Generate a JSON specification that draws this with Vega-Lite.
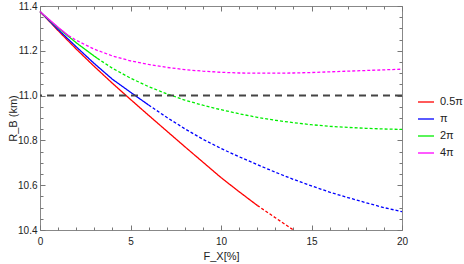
{
  "$schema": "https://vega.github.io/schema/vega-lite/v6.json",
  "autosize": {"type": "none"},
  "width": 362,
  "height": 224,
  "padding": {"left": 40, "top": 6, "right": 62, "bottom": 34},
  "config": {
    "axis": {"domain": false, "grid": false, "labelFont": "Liberation Sans", "labelFontSize": 10, "labelColor": "#222222", "tickColor": "#777777", "titleFont": "Liberation Sans", "titleFontWeight": "normal", "titleFontSize": 11, "titleColor": "#222222", "labelOverlap": false, "labelFlush": false},
    "view": {"stroke": "#888888", "strokeWidth": 1},
    "legend": {"labelFont": "Liberation Sans", "labelFontSize": 11, "labelColor": "#222222"}
  },
  "data": {"values": [
    {"s": "0.5π", "seg": "solid", "x": 0, "y": 11.375},
    {"s": "0.5π", "seg": "solid", "x": 0.5, "y": 11.333},
    {"s": "0.5π", "seg": "solid", "x": 1, "y": 11.29},
    {"s": "0.5π", "seg": "solid", "x": 2, "y": 11.208},
    {"s": "0.5π", "seg": "solid", "x": 3, "y": 11.13},
    {"s": "0.5π", "seg": "solid", "x": 4, "y": 11.055},
    {"s": "0.5π", "seg": "solid", "x": 5, "y": 10.983},
    {"s": "0.5π", "seg": "solid", "x": 6, "y": 10.912},
    {"s": "0.5π", "seg": "solid", "x": 7, "y": 10.842},
    {"s": "0.5π", "seg": "solid", "x": 8, "y": 10.772},
    {"s": "0.5π", "seg": "solid", "x": 9, "y": 10.703},
    {"s": "0.5π", "seg": "solid", "x": 10, "y": 10.634},
    {"s": "0.5π", "seg": "solid", "x": 11, "y": 10.571},
    {"s": "0.5π", "seg": "solid", "x": 12, "y": 10.51},
    {"s": "0.5π", "seg": "dashed", "x": 12, "y": 10.51},
    {"s": "0.5π", "seg": "dashed", "x": 13, "y": 10.455},
    {"s": "0.5π", "seg": "dashed", "x": 14, "y": 10.4},
    {"s": "π", "seg": "solid", "x": 0, "y": 11.375},
    {"s": "π", "seg": "solid", "x": 0.5, "y": 11.335},
    {"s": "π", "seg": "solid", "x": 1, "y": 11.295},
    {"s": "π", "seg": "solid", "x": 2, "y": 11.218},
    {"s": "π", "seg": "solid", "x": 3, "y": 11.143},
    {"s": "π", "seg": "solid", "x": 4, "y": 11.073},
    {"s": "π", "seg": "solid", "x": 5, "y": 11.015},
    {"s": "π", "seg": "solid", "x": 6, "y": 10.958},
    {"s": "π", "seg": "dashed", "x": 6, "y": 10.958},
    {"s": "π", "seg": "dashed", "x": 7, "y": 10.903},
    {"s": "π", "seg": "dashed", "x": 8, "y": 10.852},
    {"s": "π", "seg": "dashed", "x": 9, "y": 10.805},
    {"s": "π", "seg": "dashed", "x": 10, "y": 10.764},
    {"s": "π", "seg": "dashed", "x": 11, "y": 10.727},
    {"s": "π", "seg": "dashed", "x": 12, "y": 10.692},
    {"s": "π", "seg": "dashed", "x": 13, "y": 10.658},
    {"s": "π", "seg": "dashed", "x": 14, "y": 10.626},
    {"s": "π", "seg": "dashed", "x": 15, "y": 10.597},
    {"s": "π", "seg": "dashed", "x": 16, "y": 10.569},
    {"s": "π", "seg": "dashed", "x": 17, "y": 10.545},
    {"s": "π", "seg": "dashed", "x": 18, "y": 10.522},
    {"s": "π", "seg": "dashed", "x": 19, "y": 10.5},
    {"s": "π", "seg": "dashed", "x": 20, "y": 10.482},
    {"s": "2π", "seg": "solid", "x": 0, "y": 11.375},
    {"s": "2π", "seg": "solid", "x": 0.5, "y": 11.338},
    {"s": "2π", "seg": "solid", "x": 1, "y": 11.302},
    {"s": "2π", "seg": "solid", "x": 2, "y": 11.236},
    {"s": "2π", "seg": "solid", "x": 3, "y": 11.176},
    {"s": "2π", "seg": "solid", "x": 3.16, "y": 11.167},
    {"s": "2π", "seg": "dashed", "x": 3.16, "y": 11.167},
    {"s": "2π", "seg": "dashed", "x": 4, "y": 11.122},
    {"s": "2π", "seg": "dashed", "x": 5, "y": 11.078},
    {"s": "2π", "seg": "dashed", "x": 6, "y": 11.04},
    {"s": "2π", "seg": "dashed", "x": 7, "y": 11.008},
    {"s": "2π", "seg": "dashed", "x": 8, "y": 10.98},
    {"s": "2π", "seg": "dashed", "x": 9, "y": 10.957},
    {"s": "2π", "seg": "dashed", "x": 10, "y": 10.937},
    {"s": "2π", "seg": "dashed", "x": 11, "y": 10.919},
    {"s": "2π", "seg": "dashed", "x": 12, "y": 10.903},
    {"s": "2π", "seg": "dashed", "x": 13, "y": 10.89},
    {"s": "2π", "seg": "dashed", "x": 14, "y": 10.879},
    {"s": "2π", "seg": "dashed", "x": 15, "y": 10.87},
    {"s": "2π", "seg": "dashed", "x": 16, "y": 10.863},
    {"s": "2π", "seg": "dashed", "x": 17, "y": 10.858},
    {"s": "2π", "seg": "dashed", "x": 18, "y": 10.854},
    {"s": "2π", "seg": "dashed", "x": 19, "y": 10.851},
    {"s": "2π", "seg": "dashed", "x": 20, "y": 10.849},
    {"s": "4π", "seg": "solid", "x": 0, "y": 11.375},
    {"s": "4π", "seg": "solid", "x": 0.5, "y": 11.34},
    {"s": "4π", "seg": "solid", "x": 1, "y": 11.305},
    {"s": "4π", "seg": "solid", "x": 1.57, "y": 11.268},
    {"s": "4π", "seg": "dashed", "x": 1.57, "y": 11.268},
    {"s": "4π", "seg": "dashed", "x": 2, "y": 11.247},
    {"s": "4π", "seg": "dashed", "x": 3, "y": 11.207},
    {"s": "4π", "seg": "dashed", "x": 4, "y": 11.177},
    {"s": "4π", "seg": "dashed", "x": 5, "y": 11.155},
    {"s": "4π", "seg": "dashed", "x": 6, "y": 11.139},
    {"s": "4π", "seg": "dashed", "x": 7, "y": 11.126},
    {"s": "4π", "seg": "dashed", "x": 8, "y": 11.116},
    {"s": "4π", "seg": "dashed", "x": 9, "y": 11.109},
    {"s": "4π", "seg": "dashed", "x": 10, "y": 11.104},
    {"s": "4π", "seg": "dashed", "x": 11, "y": 11.101},
    {"s": "4π", "seg": "dashed", "x": 12, "y": 11.1},
    {"s": "4π", "seg": "dashed", "x": 13, "y": 11.1},
    {"s": "4π", "seg": "dashed", "x": 14, "y": 11.101},
    {"s": "4π", "seg": "dashed", "x": 15, "y": 11.103},
    {"s": "4π", "seg": "dashed", "x": 16, "y": 11.106},
    {"s": "4π", "seg": "dashed", "x": 17, "y": 11.109},
    {"s": "4π", "seg": "dashed", "x": 18, "y": 11.112},
    {"s": "4π", "seg": "dashed", "x": 19, "y": 11.115},
    {"s": "4π", "seg": "dashed", "x": 20, "y": 11.118}
  ]},
  "resolve": {"axis": {"x": "independent", "y": "independent"}},
  "layer": [
    {
      "mark": {"type": "line", "strokeWidth": 1.3},
      "encoding": {
        "x": {"field": "x", "type": "quantitative", "scale": {"domain": [0, 20], "nice": false, "zero": false},
              "axis": {"orient": "bottom", "values": [0, 5, 10, 15, 20], "tickSize": -5, "labelPadding": 11, "title": "F_X[%]", "titlePadding": 4}},
        "y": {"field": "y", "type": "quantitative", "scale": {"domain": [10.4, 11.4], "nice": false, "zero": false},
              "axis": {"orient": "left", "values": [10.4, 10.6, 10.8, 11.0, 11.2, 11.4], "format": ".1f", "tickSize": -5, "labelPadding": 8, "title": "R_B (km)", "titlePadding": -1}},
        "color": {"field": "s", "type": "nominal",
                  "scale": {"domain": ["0.5π", "π", "2π", "4π"], "range": ["#ff0000", "#0000ff", "#00ee00", "#ff00ff"]},
                  "legend": {"title": null, "orient": "none", "legendX": 377, "legendY": 87, "symbolType": "stroke", "symbolSize": 256, "symbolStrokeWidth": 1.3, "rowPadding": 3, "labelOffset": 5, "padding": 0}},
        "strokeDash": {"field": "seg", "type": "nominal", "scale": {"domain": ["solid", "dashed"], "range": [[1, 0], [3, 2]]}, "legend": null},
        "detail": {"field": "s"}
      }
    },
    {
      "mark": {"type": "point", "opacity": 0},
      "encoding": {
        "x": {"field": "x", "type": "quantitative", "axis": {"orient": "bottom", "values": [1,2,3,4,6,7,8,9,11,12,13,14,16,17,18,19], "labels": false, "tickSize": -3, "title": null}},
        "y": {"field": "y", "type": "quantitative", "axis": {"orient": "left", "values": [10.45,10.5,10.55,10.65,10.7,10.75,10.85,10.9,10.95,11.05,11.1,11.15,11.25,11.3,11.35], "labels": false, "tickSize": -3, "title": null}}
      }
    },
    {
      "mark": {"type": "point", "opacity": 0},
      "encoding": {
        "x": {"field": "x", "type": "quantitative", "axis": {"orient": "top", "values": [0, 5, 10, 15, 20], "labels": false, "tickSize": -5, "title": null}},
        "y": {"field": "y", "type": "quantitative", "axis": {"orient": "right", "values": [10.4, 10.6, 10.8, 11.0, 11.2, 11.4], "labels": false, "tickSize": -5, "title": null}}
      }
    },
    {
      "mark": {"type": "point", "opacity": 0},
      "encoding": {
        "x": {"field": "x", "type": "quantitative", "axis": {"orient": "top", "values": [1,2,3,4,6,7,8,9,11,12,13,14,16,17,18,19], "labels": false, "tickSize": -3, "title": null}},
        "y": {"field": "y", "type": "quantitative", "axis": {"orient": "right", "values": [10.45,10.5,10.55,10.65,10.7,10.75,10.85,10.9,10.95,11.05,11.1,11.15,11.25,11.3,11.35], "labels": false, "tickSize": -3, "title": null}}
      }
    },
    {
      "data": {"values": [{"y": 11.0}]},
      "mark": {"type": "rule", "color": "#444444", "strokeWidth": 2, "strokeDash": [7, 5]},
      "encoding": {
        "y": {"field": "y", "type": "quantitative", "axis": null}
      }
    }
  ]
}
